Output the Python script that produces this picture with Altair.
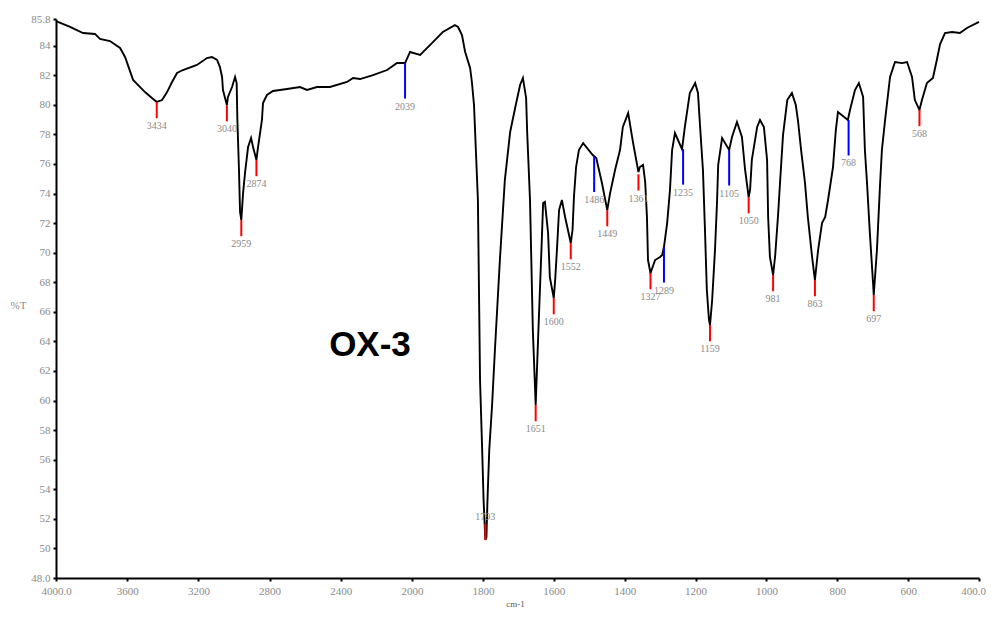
import altair as alt
import pandas as pd

# ---- spectrum (wavenumber cm-1, %T) ----
wavenumber = [4000, 3921, 3848, 3781, 3753, 3697, 3640, 3612, 3567, 3500, 3461, 3434, 3404, 3376, 3348, 3320, 3287, 3208, 3152, 3124,
              3095, 3079, 3067, 3062, 3040, 3034, 3011, 2994, 2985, 2981, 2972, 2966, 2959, 2949, 2938, 2921, 2904, 2893, 2874, 2865,
              2843, 2837, 2815, 2781, 2702, 2629, 2590, 2534, 2461, 2365, 2331, 2292, 2219, 2140, 2084, 2039, 2011, 1977, 1941, 1913,
              1879, 1870, 1859, 1850, 1836, 1831, 1825, 1814, 1808, 1802, 1798, 1793, 1790, 1787, 1782, 1774, 1766, 1752, 1738, 1723,
              1709, 1695, 1687, 1678, 1675, 1667, 1659, 1651, 1644, 1639, 1633, 1630, 1625, 1616, 1611, 1600, 1596, 1591, 1585, 1577,
              1568, 1552, 1547, 1543, 1537, 1529, 1517, 1490, 1480, 1464, 1449, 1441, 1427, 1413, 1405, 1390, 1376, 1361, 1357, 1348,
              1342, 1337, 1334, 1327, 1314, 1300, 1294, 1289, 1280, 1272, 1266, 1258, 1238, 1230, 1216, 1201, 1193, 1187, 1179, 1173,
              1168, 1162, 1159, 1153, 1145, 1139, 1136, 1125, 1105, 1097, 1083, 1069, 1060, 1050, 1046, 1041, 1026, 1018, 1007, 998,
              995, 990, 981, 975, 967, 961, 953, 941, 928, 917, 911, 902, 897, 891, 883, 871, 863, 854, 843, 834,
              826, 812, 804, 798, 770, 764, 750, 739, 727, 722, 716, 708, 699, 697, 688, 679, 674, 665, 651, 637,
              617, 603, 589, 581, 568, 561, 547, 530, 519, 510, 496, 476, 454, 434, 400]
transmittance = [85.66, 85.26, 84.85, 84.79, 84.45, 84.31, 83.84, 83.23, 81.68, 80.86, 80.46, 80.19, 80.32, 80.86, 81.54, 82.15, 82.35, 82.69, 83.16, 83.23,
                 83.03, 82.55, 81.88, 81.00, 79.98, 80.53, 81.20, 81.88, 81.47, 78.97, 75.59, 72.75, 72.21, 74.03, 75.39, 77.14, 77.75, 77.14, 76.27, 77.14,
                 78.97, 80.12, 80.66, 80.93, 81.07, 81.20, 81.00, 81.20, 81.20, 81.54, 81.81, 81.74, 82.01, 82.35, 82.82, 82.82, 83.57, 83.37, 84.24, 84.92,
                 85.39, 85.26, 84.72, 83.57, 82.49, 81.54, 79.98, 73.56, 61.39, 56.66, 53.27, 50.57, 50.77, 53.27, 56.66, 59.70, 63.42, 69.50, 74.91, 78.16,
                 79.78, 81.34, 81.81, 80.46, 78.16, 73.56, 64.77, 59.70, 64.30, 67.47, 71.33, 73.36, 73.43, 71.33, 68.35, 66.93, 68.15, 70.18, 72.88, 73.56,
                 72.41, 70.65, 71.53, 73.76, 75.79, 76.94, 77.41, 76.60, 76.40, 74.71, 72.88, 74.03, 75.59, 76.94, 78.50, 79.44, 77.41, 75.45, 75.79, 75.93,
                 74.78, 72.41, 69.50, 68.62, 69.50, 69.71, 69.84, 70.38, 72.00, 74.24, 76.94, 78.09, 77.00, 78.50, 80.80, 81.47, 80.80, 78.50, 75.59, 71.33,
                 67.47, 65.45, 65.11, 66.80, 70.18, 73.56, 75.93, 77.75, 76.94, 77.82, 78.84, 77.82, 75.59, 73.76, 74.24, 76.27, 78.50, 78.97, 78.50, 76.27,
                 72.41, 69.71, 68.49, 69.84, 72.55, 74.91, 77.96, 80.32, 80.80, 79.98, 78.97, 76.94, 75.93, 74.71, 72.41, 69.71, 68.15, 70.18, 72.00, 72.41,
                 73.56, 75.79, 78.29, 79.51, 78.97, 79.65, 81.00, 81.47, 80.53, 76.94, 74.71, 71.33, 67.95, 67.14, 70.18, 74.71, 76.94, 78.97, 81.88, 82.89,
                 82.82, 82.89, 81.88, 80.32, 79.65, 80.32, 81.47, 81.81, 83.03, 84.09, 84.85, 84.92, 84.85, 85.19, 85.60]

# ---- peak picks ----
peak_wn = [3434, 3040, 2959, 2874, 2039, 1793, 1651, 1600, 1552, 1486, 1449, 1361, 1327, 1289, 1235, 1159, 1105, 1050, 981, 863, 768, 697, 568]
peak_T = [80.19, 79.98, 72.21, 76.27, 82.82, 50.57, 59.70, 66.93, 70.65, 76.50, 72.88, 75.30, 68.62, 70.38, 77.00, 65.11, 76.94, 73.76, 68.49, 68.15, 78.97, 67.14, 79.65]
peak_kind = ["red", "red", "red", "red", "blue", "red", "red", "red", "red", "blue", "red", "red", "red", "blue", "blue", "red", "blue", "red", "red", "red", "blue", "red", "red"]

x_ticks = [4000, 3600, 3200, 2800, 2400, 2000, 1800, 1600, 1400, 1200, 1000, 800, 600, 400]
y_ticks = [48, 50, 52, 54, 56, 58, 60, 62, 64, 66, 68, 70, 72, 74, 76, 78, 80, 82, 84, 85.8]

spec = pd.DataFrame({"wn": wavenumber, "T": transmittance})
spec["i"] = range(len(spec))

pk = pd.DataFrame({"wn": peak_wn, "T": peak_T, "kind": peak_kind})
pk["len"] = pk["kind"].map({"red": 1.1, "blue": 2.4})
pk["up"] = pk["wn"] == 1793
pk["T2"] = pk.apply(lambda r: r["T"] + r["len"] if r["up"] else r["T"] - r["len"], axis=1)
pk["label"] = pk["wn"].astype(str)
pk["color"] = pk["kind"].map({"red": "#ff0000", "blue": "#0000ff"})

x_scale = alt.Scale(domain=[4000, 2000, 400], range=[0, 356, 923], nice=False, zero=False)
y_scale = alt.Scale(domain=[48, 85.8], nice=False, zero=False)

grey = "#8a8a8a"
serif = "Liberation Serif"

x_axis = alt.Axis(values=x_ticks, tickCount=len(x_ticks) + 2,
                  labelExpr="datum.value == 4000 ? '4000.0' : (datum.value == 400 ? '400.0' : format(datum.value, 'd'))",
                  labelOffset={"condition": {"test": "datum.value == 400", "value": -6}, "value": 0},
                  title="cm-1", grid=False, domainColor="black", domainWidth=2,
                  tickColor="black", tickSize=3, tickWidth=2, labelColor=grey, labelFont=serif,
                  labelFontSize=11, labelPadding=4, labelOverlap=False, labelFlush=False,
                  titleFont=serif, titleFontSize=9, titleColor="#555", titleFontWeight="normal",
                  titleX=459, titleY=25, titleAlign="center", titleBaseline="middle")
y_axis = alt.Axis(values=y_ticks, tickCount=len(y_ticks) + 2,
                  labelExpr="datum.value == 85.8 ? '85.8' : (datum.value == 48 ? '48.0' : format(datum.value, 'd'))",
                  title="%T", grid=False, domainColor="black", domainWidth=2,
                  tickColor="black", tickSize=3, tickWidth=2, labelColor=grey, labelFont=serif,
                  labelFontSize=11, labelPadding=3, labelOverlap=False, labelFlush=False,
                  titleFont=serif, titleFontSize=11, titleColor=grey, titleFontWeight="normal",
                  titleAngle=0, titleX=-46, titleY=286, titleAlign="left", titleBaseline="middle")

line = alt.Chart(spec).mark_line(color="black", strokeWidth=1.9, interpolate="linear").encode(
    x=alt.X("wn:Q", scale=x_scale, axis=x_axis),
    y=alt.Y("T:Q", scale=y_scale, axis=y_axis),
    order="i:Q",
)

rules = alt.Chart(pk).mark_rule(strokeWidth=2).encode(
    x="wn:Q", y="T:Q", y2="T2:Q",
    color=alt.Color("color:N", scale=None),
)

labels_down = alt.Chart(pk[~pk["up"]]).mark_text(
    baseline="top", dy=3, font=serif, fontSize=10, color=grey
).encode(x="wn:Q", y="T2:Q", text="label:N")

labels_up = alt.Chart(pk[pk["up"]]).mark_text(
    baseline="bottom", dy=-2, font=serif, fontSize=10, color=grey
).encode(x="wn:Q", y="T2:Q", text="label:N")

title_df = pd.DataFrame({"wn": [2236], "T": [63.76], "txt": ["OX-3"]})
sample = alt.Chart(title_df).mark_text(
    font="Liberation Sans", fontWeight="bold", fontSize=35, color="black", align="center", baseline="middle"
).encode(x="wn:Q", y="T:Q", text="txt:N")

chart = alt.layer(line, rules, labels_down, labels_up, sample).properties(
    width=923, height=559,
    autosize=alt.AutoSizeParams(type="none"),
    padding={"left": 48, "top": 11, "right": 7, "bottom": 31},
    background="white",
).configure_view(strokeWidth=0)

chart.save("out.html", embed_options={"renderer": "svg", "actions": False})
